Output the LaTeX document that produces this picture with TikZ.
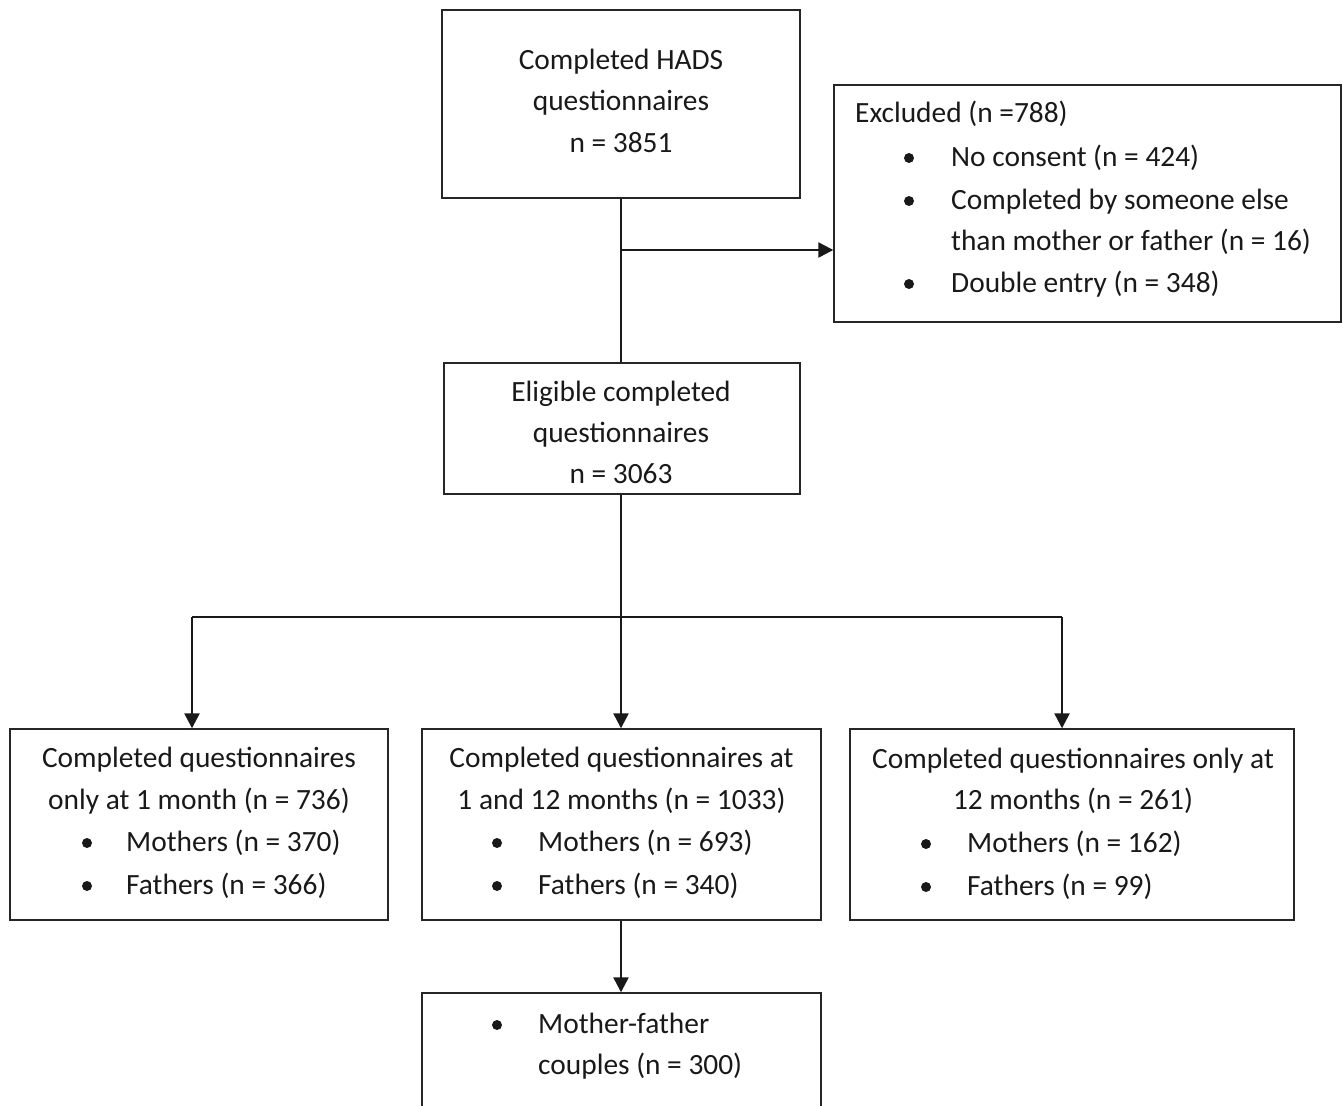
\documentclass[tikz,border=0pt]{standalone}
\usepackage{fontspec}
\setmainfont{Carlito}
\usetikzlibrary{arrows.meta}
\begin{document}
\begin{tikzpicture}[x=1pt,y=-1pt,
  box/.style={draw=black!85,line width=1.4pt,inner sep=0pt,fill=none},
  txt/.style={inner sep=0pt,anchor=base,text=black!90,font=\fontsize{29.4pt}{42pt}\selectfont},
  ltxt/.style={txt,anchor=base west},
  conn/.style={draw=black!90,line width=2.4pt},
  arr/.style={conn,-{Triangle[length=15pt,width=15pt]}},
  bul/.style={fill=black!90}]
\useasboundingbox (0,0) rectangle (1343,1105);
% boxes
\node[box,minimum width=358pt,minimum height=188pt] (b1) at (621,104) {};
\node[box,minimum width=507pt,minimum height=237pt] (ex) at (1087.5,203.5) {};
\node[box,minimum width=356pt,minimum height=131pt] (b2) at (622,428.5) {};
\node[box,minimum width=378pt,minimum height=191pt] (b3) at (199,824.5) {};
\node[box,minimum width=399pt,minimum height=191pt] (b4) at (621.5,824.5) {};
\node[box,minimum width=444pt,minimum height=191pt] (b5) at (1072,824.5) {};
\node[box,minimum width=399pt,minimum height=140pt] (b6) at (621.5,1063) {};
% texts
\node[txt] (t11) at (621,70) {Completed HADS};
\node[txt] (t12) at (621,111) {questionnaires};
\node[txt] (t13) at (621,153) {n = 3851};
\node[ltxt] (e0) at (855,123) {Excluded (n =788)};
\node[ltxt] (e1) at (951,166) {No consent (n = 424)};
\node[ltxt] (e2) at (951,209) {Completed by someone else};
\node[ltxt] (e3) at (951,250) {than mother or father (n = 16)};
\node[ltxt] (e4) at (951,292) {Double entry (n = 348)};
\fill[bul] (909,158) circle (5pt);
\fill[bul] (909,201) circle (5pt);
\fill[bul] (909,284) circle (5pt);
\node[txt] (t21) at (621,401) {Eligible completed};
\node[txt] (t22) at (621,442) {questionnaires};
\node[txt] (t23) at (621,483) {n = 3063};
\node[txt] (t31) at (199,767) {Completed questionnaires};
\node[txt] (t32) at (199,809) {only at 1 month (n = 736)};
\node[ltxt] (t33) at (126,851) {Mothers (n = 370)};
\node[ltxt] (t34) at (126,894) {Fathers (n = 366)};
\fill[bul] (87,843) circle (5pt);
\fill[bul] (87,886) circle (5pt);
\node[txt] (t41) at (621.5,767) {Completed questionnaires at};
\node[txt] (t42) at (621.5,809) {1 and 12 months (n = 1033)};
\node[ltxt] (t43) at (538,851) {Mothers (n = 693)};
\node[ltxt] (t44) at (538,894) {Fathers (n = 340)};
\fill[bul] (497,843) circle (5pt);
\fill[bul] (497,886) circle (5pt);
\node[txt] (t51) at (1073,768) {Completed questionnaires only at};
\node[txt] (t52) at (1073,809) {12 months (n = 261)};
\node[ltxt] (t53) at (967,852) {Mothers (n = 162)};
\node[ltxt] (t54) at (967,895) {Fathers (n = 99)};
\fill[bul] (926,844) circle (5pt);
\fill[bul] (926,887) circle (5pt);
\node[ltxt] (t61) at (538,1033) {Mother-father};
\node[ltxt] (t62) at (538,1074) {couples (n = 300)};
\fill[bul] (497,1025) circle (5pt);
% connectors
\coordinate (j1) at (621,250);
\draw[conn] (b1.south) -- (b1.south |- b2.north);
\draw[arr] (j1) -- (j1 -| ex.west);
\coordinate (sp) at (621,617);
\coordinate (L) at (192,617);
\coordinate (R) at (1062,617);
\draw[arr] (b2.south -| sp) -- (sp |- b4.north);
\draw[conn] (L) -- (R);
\draw[arr] (L) -- (L |- b3.north);
\draw[arr] (R) -- (R |- b5.north);
\draw[arr] (b4.south -| sp) -- (sp |- b6.north);
\end{tikzpicture}
\end{document}
